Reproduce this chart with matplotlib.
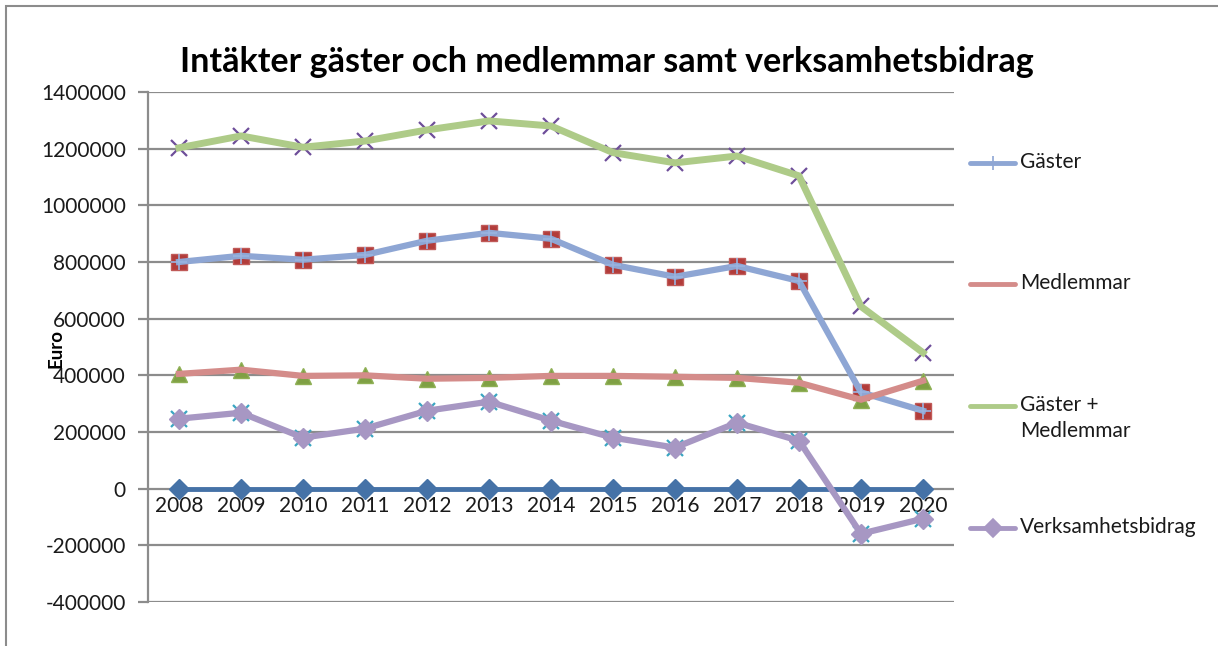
import matplotlib.pyplot as plt
from matplotlib.lines import Line2D
from matplotlib.patches import Rectangle

years = ['2008', '2009', '2010', '2011', '2012', '2013', '2014',
         '2015', '2016', '2017', '2018', '2019', '2020']
gaster = [800000, 822000, 808000, 825000, 875000, 903000, 882000,
          790000, 748000, 786000, 733000, 340000, 275000]
medlemmar = [405000, 420000, 398000, 400000, 388000, 391000, 398000,
             398000, 395000, 391000, 374000, 314000, 381000]
gaster_medl = [1203000, 1245000, 1205000, 1227000, 1266000, 1298000, 1280000,
               1186000, 1150000, 1174000, 1104000, 643000, 480000]
verksamhet = [247000, 268000, 180000, 212000, 275000, 307000, 240000,
              180000, 145000, 233000, 169000, -159000, -106000]
noll = [0] * len(years)

yticks = [-400000, -200000, 0, 200000, 400000, 600000, 800000,
          1000000, 1200000, 1400000]

FONT = ['Lato', 'DejaVu Sans']
plt.rcParams['font.family'] = FONT

W, H = 1218, 646
fig = plt.figure(figsize=(W / 100, H / 100), dpi=100)
ax = fig.add_axes([148 / W, 1 - 602 / H, (954 - 148) / W, (602 - 92) / H])

x = list(range(len(years)))
grid_c = '#8c8c8c'

# x axis crosses at zero (set before tick labels, it resets the ticks)
ax.spines['bottom'].set_position(('data', 0))
ax.spines['bottom'].set_visible(False)

# marker layer (offset excel style)
ax.plot(x, noll, color='#4572A7', lw=3.5, marker='D', ms=10,
        mfc='#4572A7', mec='#4572A7', zorder=3)
ax.plot(x, gaster, ls='none', marker='s', ms=12, mfc='#B23C3A',
        mec='#C05a58', zorder=3)
ax.plot(x, medlemmar, ls='none', marker='^', ms=12, mfc='#7FA044',
        mec='#8fb055', zorder=3)
ax.plot(x, gaster_medl, ls='none', marker='x', ms=12, mew=1.6,
        color='#6E4E99', zorder=3)
ax.plot(x, verksamhet, ls='none', marker='x', ms=11, mew=1.6,
        color='#3AA6C2', zorder=3)

# line layer
ax.plot(x, gaster, color='#8EA6D4', lw=4.5, marker='+', ms=11, mew=1.2,
        mec='#9ab4e0', zorder=4)
ax.plot(x, medlemmar, color='#D48C8A', lw=4.5, zorder=4)
ax.plot(x, gaster_medl, color='#AECB88', lw=5, zorder=4)
ax.plot(x, verksamhet, color='#A797C3', lw=4.5, marker='D', ms=10,
        mfc='#A797C3', mec='#A797C3', zorder=5)

ax.set_xlim(-0.5, len(years) - 0.5)
ax.set_ylim(-400000, 1400000)
ax.set_yticks(yticks)
ax.set_yticklabels([str(v) for v in yticks])
ax.yaxis.grid(True, color=grid_c, lw=1.6, zorder=0)
ax.tick_params(axis='y', length=7, width=1.6, color=grid_c, pad=9,
               labelsize=15, labelcolor='#1a1a1a')

ax.set_xticks(x)
ax.set_xticklabels(years)
ax.tick_params(axis='x', length=0, pad=5, labelsize=15, labelcolor='#1a1a1a')
for s in ['top', 'right']:
    ax.spines[s].set_visible(False)
ax.spines['left'].set_color(grid_c)
ax.spines['left'].set_linewidth(1.6)

ax.set_ylabel('Euro', fontsize=13.5, fontweight='bold', labelpad=0)
ax.yaxis.set_label_coords(-0.103, 0.498)

fig.text(607 / W, 1 - 62 / H,
         'Intäkter gäster och medlemmar samt verksamhetsbidrag',
         ha='center', va='center', fontsize=24.5, fontweight='bold')

# legend drawn by hand, Excel style spacing
leg = [('Gäster', '#8EA6D4', '+', 163),
       ('Medlemmar', '#D48C8A', None, 284),
       ('Gäster +\nMedlemmar', '#AECB88', None, 406),
       ('Verksamhetsbidrag', '#A797C3', 'D', 528)]
for label, col, mk, yy in leg:
    yf = 1 - yy / H
    ln = Line2D([970 / W, 1015 / W], [yf, yf], transform=fig.transFigure,
                color=col, lw=3.5, solid_capstyle='round')
    fig.add_artist(ln)
    if mk:
        fig.add_artist(Line2D([992.5 / W], [yf], transform=fig.transFigure,
                              marker=mk, ms=9 if mk == 'D' else 10,
                              mew=1.2, color=col, mfc=col))
    fig.text(1020 / W, yf + 11 / H, label, ha='left', va='top',
             fontsize=15, linespacing=1.35, color='#1a1a1a')

fig.add_artist(Rectangle((6 / W, -0.1), 1.2, 1 - 6 / H + 0.1,
                         transform=fig.transFigure, fill=False,
                         ec='#8c8c8c', lw=1.5))

fig.savefig('out.png', dpi=100)
